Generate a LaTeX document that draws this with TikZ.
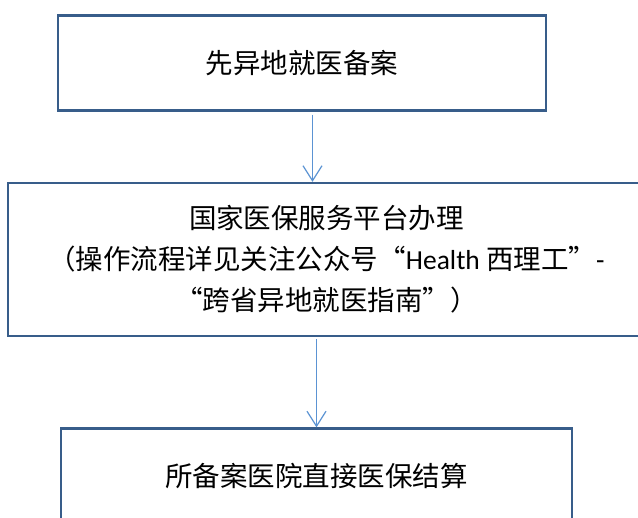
\documentclass[tikz,border=0pt]{standalone}
\usepackage{fontspec}
\newfontfamily\cjk{Noto Sans CJK SC}
\newfontfamily\lat{Carlito}
\usetikzlibrary{arrows.meta}
\definecolor{boxblue}{HTML}{385D8A}
\definecolor{arrowblue}{HTML}{5B93D3}

\begin{document}
\begin{tikzpicture}[x=1pt,y=-1pt,
    stepbox/.style={draw=boxblue,line width=2.3pt,align=center,inner sep=0pt,
        font=\cjk\fontsize{27.5}{41}\selectfont},
    flow/.style={draw=arrowblue,line width=1.2pt,-{Straight Barb[length=15pt,width=19pt]}}]
        \useasboundingbox (0,0) rectangle (638,518);
        \node[stepbox,minimum width=488pt,minimum height=95pt] (beian) at (302,63) {先异地就医备案};
        \node[stepbox,minimum width=637pt,minimum height=153pt] (banli) at (326.5,259.5)
            {国家医保服务平台办理\\（操作流程详见关注公众号“{\lat Health} 西理工”{\lat -}\\“跨省异地就医指南”）};
        \node[stepbox,minimum width=511pt,minimum height=95pt] (jiesuan) at (316.5,476) {所备案医院直接医保结算};
        % arrows between the steps
        \draw[flow] ([xshift=10.5pt,yshift=-3pt]beian.south) -- ([xshift=10.5pt]beian.south |- banli.north);
        \draw[flow] ([yshift=-2pt]banli.south -| jiesuan.north) -- (jiesuan.north);
    \end{tikzpicture}
\end{document}
